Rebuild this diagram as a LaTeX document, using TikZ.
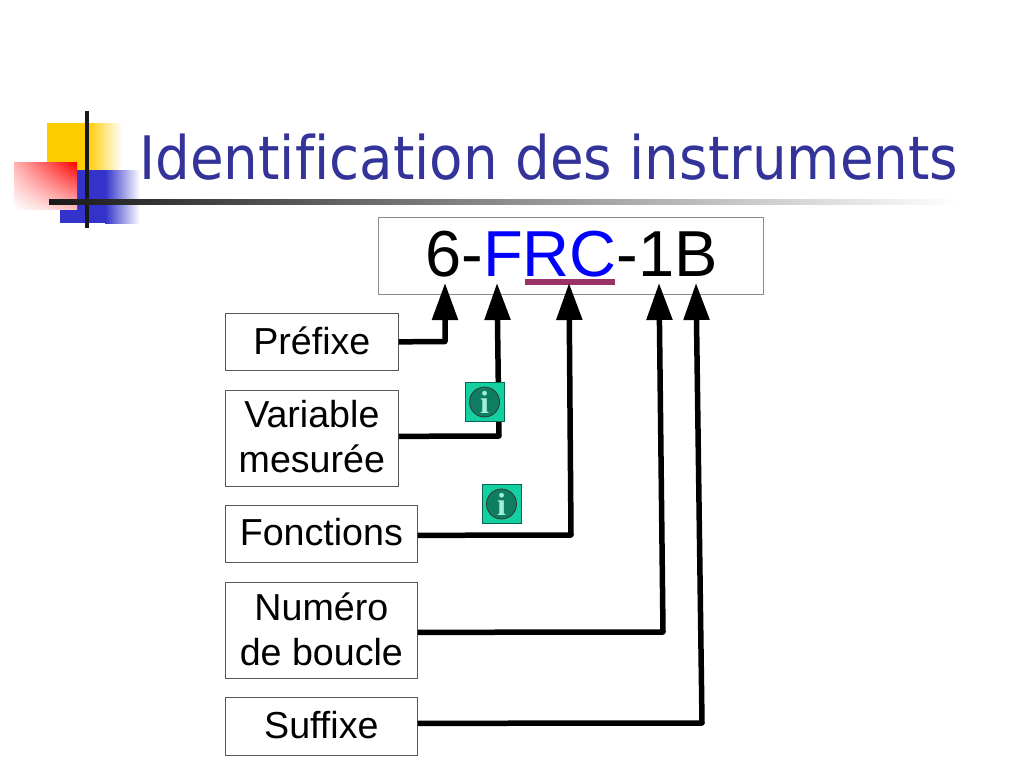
\documentclass[tikz,border=0pt]{standalone}
\usepackage{fontspec}
\setmainfont{Liberation Sans}
\newfontfamily\titlefont[FakeStretch=0.912,Ligatures=NoCommon]{DejaVu Sans}
\newfontfamily\infofont{Liberation Serif}
\usetikzlibrary{positioning}
\usetikzlibrary{arrows.meta}
\usetikzlibrary{shadings}
\definecolor{titleblue}{HTML}{333399}
\definecolor{plum}{HTML}{993366}
\definecolor{logoyellow}{HTML}{FFCC00}
\definecolor{logoblue}{HTML}{3333CC}
\definecolor{infogreen}{HTML}{14D0A0}
\definecolor{infodark}{HTML}{0F7D62}
\definecolor{infolight}{HTML}{A0F0D8}
\newcommand{\up}[1]{\raisebox{3pt}{#1}}
\begin{document}
\begin{tikzpicture}[x=1pt, y=-1pt,
  labelbox/.style={draw=black!65, line width=0.7pt, fill=white, align=center, font=\fontsize{37.6}{45}\selectfont, inner sep=0pt, anchor=north west},
  connector/.style={line width=5.5pt, line join=round, -{Triangle[length=37pt,width=25pt]}},
  infobox/.style={draw=infodark!80!black, line width=1pt, fill=infogreen, minimum size=39pt, inner sep=0pt},
  infodisc/.style={circle, draw=black!80, line width=0.8pt, fill=infodark, minimum size=30pt, inner sep=0pt, text=infolight, font=\infofont\bfseries\fontsize{32}{32}\selectfont}]
\useasboundingbox (0,0) rectangle (1024,768);
% logo
\fill[logoyellow] (47,123) rectangle (87,170);
\shade[left color=logoyellow, right color=white] (87,123) rectangle (122,170);
\fill[logoblue] (77,170) rectangle (105,209);
\fill[logoblue] (60,209) rectangle (105,223);
\shade[left color=logoblue, right color=white] (105,170) rectangle (140,223);
\shade[shading=bilinear interpolation, upper right=red, upper left=red!30!white, lower left=white, lower right=red!25!white] (14,162) rectangle (77,209);
\draw[line width=4pt, black!90] (87,111) -- (87,228);
\shade[left color=black!90, right color=white] (49,199) rectangle (960,204);
% title
\node[anchor=base west, inner sep=0pt, text=titleblue, font=\titlefont\fontsize{60}{60}\selectfont] (title) at (139,179) {Identification des instruments};
% instrument tag
\node[draw=black!45, line width=1pt, minimum width=384.5pt, minimum height=77pt, inner sep=0pt] (tagbox) at (570.75,255.5) {};
\node[anchor=base, inner sep=0pt, font=\fontsize{65}{65}\selectfont] (tag) at (571.5,276) {6-{\color{blue}FRC}-1B};
\fill[plum] (525,279) rectangle (615,285);
% labels
\node[labelbox, minimum width=173pt, minimum height=57pt] (prefixe) at (225,313) {\up{Préfixe}};
\node[labelbox, minimum width=173pt, minimum height=96pt] (variable) at (225,390) {\up{Variable}\\\up{mesurée}};
\node[labelbox, minimum width=192pt, minimum height=57pt] (fonctions) at (225,505) {\up{Fonctions}};
\node[labelbox, minimum width=192pt, minimum height=96pt] (numero) at (225,582) {\up{Numéro}\\\up{de boucle}};
\node[labelbox, minimum width=192pt, minimum height=58pt] (suffixe) at (225,697) {\up{Suffixe}};
% arrow ends
\coordinate (tipa) at (445,283);
\coordinate (tipb) at (497,283);
\coordinate (tipc) at (569,283);
\coordinate (tipd) at (659,283);
\coordinate (tipe) at (696,283);
\draw[connector] (prefixe.east) -- (445,341.5) -- (tipa);
\draw[connector] ([yshift=2pt]variable.east) -- (499,436) -- (tipb);
\draw[connector] ([yshift=-1.5pt]fonctions.east) -- (571,535) -- (tipc);
\draw[connector] ([yshift=-2pt]numero.east) -- (663,632) -- (tipd);
\draw[connector] ([yshift=3pt]suffixe.east) -- (702,723) -- (tipe);
% info buttons
\node[infobox] (infoa) at (484.5,402) {};
\node[infodisc] (infoi) at (infoa) {i};
\node[infobox] (infob) at (501.5,504) {};
\node[infodisc] (infoj) at (infob) {i};
\end{tikzpicture}
\end{document}
